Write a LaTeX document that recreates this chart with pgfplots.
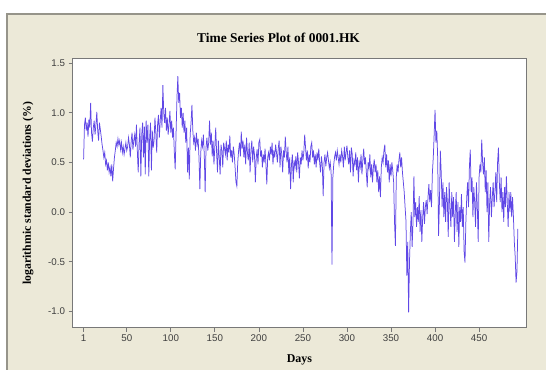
\documentclass[border=0pt]{standalone}
\usepackage{pgfplots}
\pgfplotsset{compat=1.18}
\usepackage{fontspec}
\setmainfont{Liberation Serif}
\newfontfamily\tickfont{Liberation Sans}
\definecolor{bgbeige}{RGB}{236,233,216}
\definecolor{framegray}{RGB}{150,148,138}
\definecolor{axisgray}{RGB}{120,120,120}
\definecolor{serieblue}{RGB}{96,72,230}
\begin{document}
\begin{tikzpicture}[x=1bp,y=1bp]
\fill[white] (0,0) rectangle (547,370);
\fill[bgbeige] (7,0) rectangle (547,356);
\draw[framegray, line width=1.5bp] (7,0) -- (7,356) -- (547,356);
\begin{axis}[
  at={(72.6bp,42bp)}, anchor=south west,
  scale only axis, width=454.4bp, height=269bp,
  xmin=-11.6, xmax=503.6, ymin=-1.164, ymax=1.543,
  axis background/.style={fill=white},
  axis line style={axisgray, line width=0.9bp},
  xtick={1,50,100,150,200,250,300,350,400,450},
  ytick={-1.0,-0.5,0.0,0.5,1.0,1.5},
  tick align=outside, tick pos=left,
  major tick length=4bp,
  tick style={axisgray, line width=0.7bp},
  /pgf/number format/assume math mode=true,
  yticklabel style={/pgf/number format/fixed, /pgf/number format/fixed zerofill, /pgf/number format/precision=1, font=\tickfont\fontsize{9.8}{10}\selectfont, text=black!75},
  xticklabel style={font=\tickfont\fontsize{9.8}{10}\selectfont, text=black!75},
  scaled y ticks=false,
  title={\bfseries Time Series Plot of 0001.HK},
  title style={at={(axis description cs:0.454,1.057)}, anchor=center, font=\fontsize{13.5}{14}\selectfont},
  xlabel={\bfseries Days},
  xlabel style={at={(axis description cs:0.5,-0.119)}, anchor=center, font=\fontsize{12}{13}\selectfont},
  ylabel={\bfseries logarithmic standard deviations (\%)},
  ylabel style={at={(axis description cs:-0.098,0.5)}, anchor=center, rotate=0, font=\fontsize{11.8}{13}\selectfont},
]
\addplot[serieblue, line width=0.75bp, mark=none] table[header=false, row sep=\\, x expr=\coordindex+1, y index=0] {
0.53\\0.88\\0.95\\0.82\\0.90\\0.76\\0.93\\0.85\\1.10\\0.80\\
0.71\\0.85\\0.92\\0.78\\0.88\\1.01\\0.82\\0.72\\0.90\\0.83\\
0.76\\0.68\\0.62\\0.55\\0.60\\0.48\\0.52\\0.42\\0.50\\0.40\\
0.45\\0.36\\0.48\\0.31\\0.44\\0.55\\0.62\\0.70\\0.66\\0.74\\
0.68\\0.72\\0.63\\0.70\\0.60\\0.66\\0.58\\0.64\\0.70\\0.62\\
0.66\\0.75\\0.68\\0.55\\0.71\\0.80\\0.63\\0.72\\0.78\\0.66\\
0.88\\0.62\\0.40\\0.70\\0.85\\0.36\\0.78\\0.90\\0.55\\0.86\\
0.38\\0.92\\0.70\\0.88\\0.36\\0.75\\0.90\\0.42\\0.82\\0.65\\
0.72\\0.95\\0.80\\0.60\\0.88\\0.98\\0.75\\0.92\\1.05\\0.85\\
1.28\\1.00\\0.90\\1.05\\0.82\\0.95\\0.78\\0.88\\1.02\\0.80\\
0.92\\0.75\\0.85\\0.60\\0.43\\0.80\\1.15\\1.37\\1.10\\1.20\\
0.95\\1.05\\0.85\\1.00\\0.80\\0.92\\0.70\\0.85\\0.40\\0.65\\
0.33\\0.78\\0.90\\1.08\\0.82\\0.70\\0.75\\0.62\\0.80\\0.68\\
0.74\\0.55\\0.23\\0.60\\0.72\\0.66\\0.78\\0.58\\0.20\\0.65\\
0.75\\0.62\\0.70\\0.92\\0.68\\0.80\\0.56\\0.72\\0.48\\0.66\\
0.85\\0.60\\0.40\\0.72\\0.55\\0.38\\0.68\\0.62\\0.45\\0.70\\
0.64\\0.58\\0.72\\0.52\\0.68\\0.60\\0.77\\0.55\\0.62\\0.50\\
0.66\\0.58\\0.45\\0.30\\0.26\\0.50\\0.62\\0.70\\0.56\\0.81\\
0.64\\0.72\\0.55\\0.68\\0.48\\0.75\\0.60\\0.52\\0.70\\0.40\\
0.62\\0.72\\0.50\\0.66\\0.58\\0.30\\0.55\\0.63\\0.48\\0.70\\
0.73\\0.56\\0.62\\0.45\\0.58\\0.50\\0.64\\0.48\\0.28\\0.55\\
0.60\\0.52\\0.66\\0.58\\0.70\\0.48\\0.62\\0.55\\0.68\\0.60\\
0.50\\0.64\\0.72\\0.45\\0.66\\0.58\\0.40\\0.62\\0.55\\0.76\\
0.60\\0.50\\0.66\\0.38\\0.55\\0.23\\0.48\\0.58\\0.30\\0.52\\
0.45\\0.56\\0.40\\0.60\\0.50\\0.34\\0.55\\0.48\\0.62\\0.52\\
0.60\\0.78\\0.65\\0.52\\0.62\\0.44\\0.58\\0.50\\0.66\\0.70\\
0.55\\0.62\\0.48\\0.58\\0.45\\0.60\\0.52\\0.64\\0.50\\0.40\\
0.56\\0.48\\0.16\\0.50\\0.58\\0.46\\0.55\\0.60\\0.52\\0.44\\
0.50\\0.40\\-0.53\\0.35\\0.48\\0.56\\0.60\\0.52\\0.62\\0.55\\
0.48\\0.58\\0.50\\0.62\\0.56\\0.45\\0.66\\0.52\\0.60\\0.67\\
0.55\\0.48\\0.62\\0.40\\0.65\\0.58\\0.36\\0.52\\0.48\\0.60\\
0.42\\0.55\\0.30\\0.50\\0.45\\0.58\\0.38\\0.52\\0.64\\0.48\\
0.55\\0.40\\0.25\\0.50\\0.44\\0.58\\0.35\\0.48\\0.30\\0.45\\
0.53\\0.40\\0.48\\0.30\\0.42\\0.20\\0.36\\0.15\\0.45\\0.55\\
0.50\\0.62\\0.68\\0.45\\0.58\\0.40\\0.52\\0.30\\0.48\\0.36\\
0.50\\0.42\\0.30\\-0.10\\-0.34\\0.35\\0.48\\0.40\\0.52\\0.60\\
0.45\\0.55\\0.40\\0.30\\0.20\\0.05\\-0.09\\-0.64\\-0.30\\-1.01\\
-0.50\\-0.20\\0.00\\-0.35\\-0.10\\0.36\\-0.05\\0.10\\-0.15\\0.05\\
-0.10\\0.16\\-0.20\\0.02\\-0.30\\-0.05\\0.10\\-0.12\\0.05\\0.12\\
-0.02\\0.15\\0.28\\0.10\\0.22\\0.05\\0.40\\0.55\\0.78\\1.03\\
0.70\\0.82\\0.55\\-0.24\\0.10\\0.62\\0.40\\0.05\\0.30\\-0.05\\
0.20\\-0.10\\0.25\\0.10\\-0.25\\0.30\\0.05\\-0.15\\0.20\\-0.05\\
0.15\\-0.30\\0.00\\0.20\\-0.20\\0.10\\-0.35\\0.05\\-0.10\\0.18\\
-0.15\\0.05\\-0.40\\-0.51\\-0.10\\0.15\\0.30\\0.05\\0.45\\0.63\\
0.20\\0.35\\-0.05\\0.25\\0.10\\-0.15\\0.30\\0.05\\-0.30\\0.35\\
0.48\\0.40\\0.73\\0.50\\0.38\\0.55\\0.20\\0.42\\0.00\\0.30\\
-0.30\\0.10\\0.25\\-0.05\\0.15\\0.30\\0.05\\0.20\\0.40\\0.10\\
0.50\\0.65\\0.30\\0.10\\0.35\\0.00\\0.20\\-0.10\\0.25\\0.05\\
0.36\\0.10\\-0.15\\0.20\\0.00\\0.20\\-0.05\\0.15\\-0.05\\-0.30\\
-0.45\\-0.71\\-0.60\\-0.17\\
};
\end{axis}
\end{tikzpicture}
\end{document}
